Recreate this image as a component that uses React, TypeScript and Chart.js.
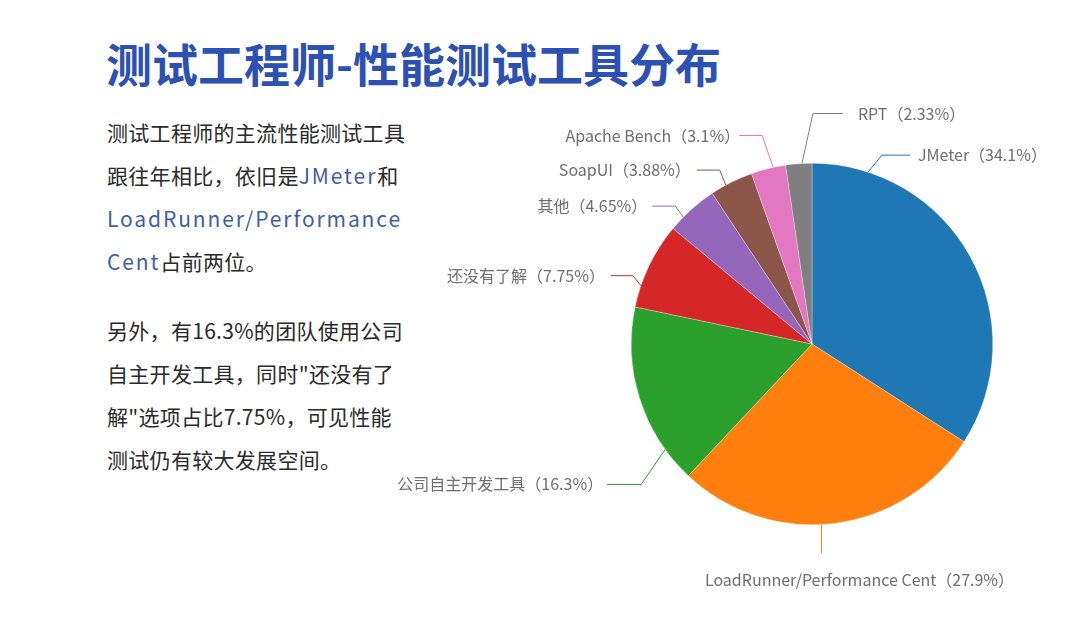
import React, { useEffect, useRef } from "react";
import Chart from "chart.js/auto";

const categories = [
  "JMeter",
  "LoadRunner/Performance Cent",
  "公司自主开发工具",
  "还没有了解",
  "其他",
  "SoapUI",
  "Apache Bench",
  "RPT",
];
const shares = [34.1, 27.9, 16.3, 7.75, 4.65, 3.88, 3.1, 2.33];
const shareLabels = ["34.1%", "27.9%", "16.3%", "7.75%", "4.65%", "3.88%", "3.1%", "2.33%"];
const colors = ["#1f77b4", "#ff7f0e", "#2ca02c", "#d62728", "#9467bd", "#8c564b", "#e377c2", "#7f7f7f"];

// label-line layout (style only): anchor fraction inside slice, elbow offset, horizontal run, text offset
const labelLayout = [
  { frac: 0.147, ex: 14, ey: -17, hx: 28, tdx: 8, tdy: 0, align: "left" },
  { frac: 0.54, ex: 0, ey: 29, hx: 0, tdx: 38, tdy: 26, align: "center" },
  { frac: 0.19, ex: -24, ey: 35, hx: -34, tdx: -4, tdy: 0, align: "right" },
  { frac: 0.25, ex: -8, ey: -10, hx: -22, tdx: -6, tdy: 0, align: "right" },
  { frac: 0.29, ex: -8, ey: -11, hx: -23, tdx: -5, tdy: 0, align: "right" },
  { frac: 0.36, ex: -6, ey: -15, hx: -23, tdx: -6, tdy: 0, align: "right" },
  { frac: 0.64, ex: -11, ey: -32, hx: -23, tdx: 1, tdy: 0, align: "right" },
  { frac: 0.62, ex: 11, ey: -50, hx: 30, tdx: 15, tdy: 0, align: "left" },
];

const FONT = '"Noto Sans CJK SC", "Noto Sans", sans-serif';

const leaderPlugin = {
  id: "leaderLabels",
  afterDatasetsDraw(chart: any) {
    const ctx = chart.ctx;
    const meta = chart.getDatasetMeta(0);
    ctx.save();
    ctx.font = `16px ${FONT}`;
    ctx.textBaseline = "middle";
    meta.data.forEach((arc: any, i: number) => {
      const L = labelLayout[i];
      const p = arc.getProps(["x", "y", "startAngle", "endAngle", "outerRadius"], true);
      const a = p.startAngle + L.frac * (p.endAngle - p.startAngle);
      const ax = p.x + p.outerRadius * Math.cos(a);
      const ay = p.y + p.outerRadius * Math.sin(a);
      const bx = ax + L.ex;
      const by = ay + L.ey;
      const cx = bx + L.hx;
      const cy = by;
      ctx.strokeStyle = colors[i];
      ctx.lineWidth = 1;
      ctx.beginPath();
      ctx.moveTo(ax, ay);
      ctx.lineTo(bx, by);
      ctx.lineTo(cx, cy);
      ctx.stroke();
      ctx.fillStyle = "#6e6e6e";
      ctx.textAlign = L.align;
      ctx.fillText(`${categories[i]}（${shareLabels[i]}）`, cx + L.tdx, cy + L.tdy);
    });
    ctx.restore();
  },
};

function PieChart() {
  const ref = useRef<HTMLCanvasElement>(null);
  useEffect(() => {
    if (!ref.current) return;
    const chart = new Chart(ref.current, {
      type: "pie",
      data: {
        labels: categories,
        datasets: [
          {
            data: shares,
            backgroundColor: colors,
            borderColor: "rgba(255,255,255,0.6)",
            borderWidth: 0.5,
            hoverOffset: 0,
          },
        ],
      },
      options: {
        responsive: false,
        animation: false,
        layout: { padding: { left: 271, right: 87, top: 73, bottom: 95 } },
        plugins: { legend: { display: false }, tooltip: { enabled: false } },
      },
      plugins: [leaderPlugin],
    } as any);
    return () => chart.destroy();
  }, []);
  return (
    <canvas
      ref={ref}
      width={720}
      height={530}
      style={{ position: "absolute", left: 360, top: 90, width: 720, height: 530 }}
    />
  );
}

const blue: React.CSSProperties = { color: "#3f5ea8", letterSpacing: 1.9 };

export default function App() {
  const para: React.CSSProperties = {
    position: "absolute",
    left: 107,
    margin: 0,
    fontFamily: FONT,
    fontSize: 21,
    lineHeight: "43px",
    color: "#2a2a2a",
    letterSpacing: 0.3,
    whiteSpace: "nowrap",
  };
  return (
    <div
      style={{
        position: "absolute",
        left: 0,
        top: 0,
        width: 1080,
        height: 629,
        background: "#ffffff",
        overflow: "hidden",
      }}
    >
      <div
        style={{
          position: "absolute",
          left: 106,
          top: 32,
          fontFamily: FONT,
          fontWeight: 700,
          fontSize: 46,
          lineHeight: "60px",
          color: "#2c50b3",
          whiteSpace: "nowrap",
        }}
      >
        测试工程师-性能测试工具分布
      </div>
      <p style={{ ...para, top: 111 }}>
        测试工程师的主流性能测试工具
        <br />
        跟往年相比，依旧是<span style={blue}>JMeter</span>和
        <br />
        <span style={blue}>LoadRunner/Performance</span>
        <br />
        <span style={blue}>Cent</span>占前两位。
      </p>
      <p style={{ ...para, top: 309 }}>
        另外，有16.3%的团队使用公司
        <br />
        自主开发工具，同时"还没有了
        <br />
        解"选项占比7.75%，可见性能
        <br />
        测试仍有较大发展空间。
      </p>
      <PieChart />
    </div>
  );
}
